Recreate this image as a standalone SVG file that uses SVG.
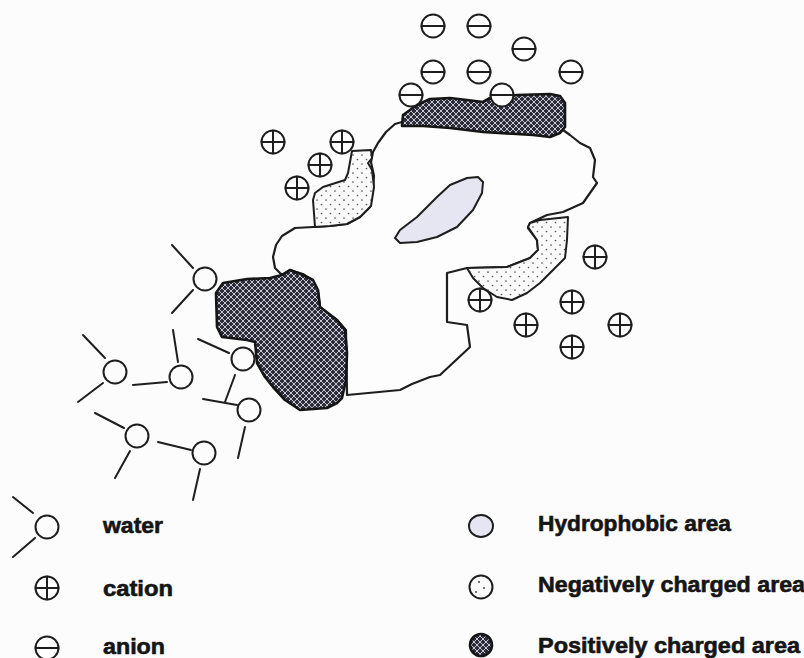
<svg xmlns="http://www.w3.org/2000/svg" width="804" height="658" viewBox="0 0 804 658">
  <style>
    .ln { stroke: #1e1e1e; stroke-width: 2; fill: none; stroke-linecap: round; stroke-linejoin: round; }
    .ion { stroke: #1e1e1e; stroke-width: 2; fill: #ffffff; }
    .mol { stroke: #1e1e1e; stroke-width: 2; fill: none; }
    .blob { stroke: #1e1e1e; stroke-width: 2.2; fill: #fdfdfd; stroke-linejoin: round; }
    .pos { stroke: #151515; stroke-width: 2.6; fill: url(#cross); stroke-linejoin: round; }
    .neg { stroke: #1e1e1e; stroke-width: 2; fill: url(#dots); stroke-linejoin: round; }
    .hyd { stroke: #1e1e1e; stroke-width: 2; fill: #e6e6f2; stroke-linejoin: round; }
    .lbl { font-family: "Liberation Sans", Arial, sans-serif; font-weight: bold; font-size: 22px; fill: #151515; stroke: #151515; stroke-width: 0.6; }
  </style>
  <defs>
    <pattern id="cross" width="6" height="6" patternUnits="userSpaceOnUse">
      <rect width="6" height="6" fill="#2c2c3a"/>
      <path d="M0,0 L6,6 M6,0 L0,6" stroke="#c8c8d2" stroke-width="1"/>
    </pattern>
    <pattern id="dots" width="9" height="9" patternUnits="userSpaceOnUse">
      <rect width="9" height="9" fill="#fafafa"/>
      <circle cx="2" cy="2" r="0.85" fill="#5a5a5a"/>
      <circle cx="6.5" cy="6.5" r="0.85" fill="#5a5a5a"/>
    </pattern>
    <g id="anion">
      <circle class="ion" r="11.5"/>
      <path class="ln" d="M-11.5,0 H11.5"/>
    </g>
    <g id="cation">
      <circle class="ion" r="11.5"/>
      <path class="ln" d="M-11.5,0 H11.5 M0,-11.5 V11.5"/>
    </g>
  </defs>

  <rect width="804" height="658" fill="#fcfcfc"/>

  <!-- protein surface -->
  <g id="protein">
    <path class="blob" d="M402,122 L395,124 L386,132 L378,143 L373,152 L371,162 L374,176 L373,190 L370,207 L360,217 L347,224 L330,226 L313,227 L295,228 L282,236 L276,245 L273,257 L275,268 L282,275 L290,270 L303,274 L313,281 L318,292 L320,307 L337,320 L346,330 L347,395 L400,390 L412,384 L430,377 L440,375 L470,347 L467,325 L447,322 L447,273 L467,268 L507,267 L530,258 L538,250 L537,240 L528,228 L530,223 L547,215 L563,212 L583,203 L590,193 L597,183 L593,177 L595,160 L590,148 L580,143 L570,135 L563,130 L520,126 L450,124 Z"/>
  </g>

  <g id="hydrophobic-area">
    <path class="hyd" d="M395,238 L400,230 L417,217 L437,197 L450,185 L467,178 L478,177 L483,182 L482,193 L473,210 L457,227 L437,237 L417,242 L400,243 Z"/>
  </g>

  <g id="negative-area-left">
    <path class="neg" d="M352,151 L371,150 L372,158 L368,163 L372,170 L374,187 L371,206 L360,217 L347,224 L330,226 L315,227 L313,200 L315,193 L323,187 L345,180 L348,173 Z"/>
  </g>

  <g id="negative-area-right">
    <path class="neg" d="M467,268 L473,278 L483,288 L497,297 L512,300 L527,293 L540,283 L553,270 L565,258 L567,240 L568,217 L540,220 L530,223 L528,227 L537,240 L538,250 L530,258 L507,267 Z"/>
  </g>

  <g id="positive-area-top">
    <path class="pos" d="M402,126 L403,115 L417,105 L430,99 L450,98 L467,100 L483,102 L490,98 L503,97 L517,95 L550,94 L560,96 L565,103 L565,127 L560,133 L550,137 L533,135 L483,132 L450,128 L423,126 Z"/>
  </g>

  <g id="positive-area-left">
    <path class="pos" d="M282,275 L290,270 L303,275 L313,280 L318,290 L320,307 L337,320 L345,330 L347,353 L346,380 L342,398 L337,403 L327,408 L300,410 L285,400 L273,387 L265,377 L257,363 L255,342 L247,340 L222,337 L217,327 L216,293 L223,283 L247,279 L270,278 Z"/>
  </g>

  <!-- anions above the top positive patch -->
  <g id="anions">
    <use href="#anion" x="433" y="26"/>
    <use href="#anion" x="479" y="26"/>
    <use href="#anion" x="524" y="49"/>
    <use href="#anion" x="433" y="72"/>
    <use href="#anion" x="479" y="72"/>
    <use href="#anion" x="571" y="72"/>
    <use href="#anion" x="411" y="95"/>
    <use href="#anion" x="502" y="95"/>
  </g>

  <!-- cations near the negative patches -->
  <g id="cations">
    <use href="#cation" x="273" y="142"/>
    <use href="#cation" x="342" y="142"/>
    <use href="#cation" x="320" y="165"/>
    <use href="#cation" x="297" y="188"/>
    <use href="#cation" x="595" y="257"/>
    <use href="#cation" x="480" y="300"/>
    <use href="#cation" x="572" y="302"/>
    <use href="#cation" x="526" y="325"/>
    <use href="#cation" x="620" y="325"/>
    <use href="#cation" x="572" y="347"/>
  </g>

  <!-- water molecules: oxygen circle with two hydrogen bonds -->
  <g id="water">
    <g id="water-1"><circle class="mol" cx="205" cy="279" r="11.5"/><path class="ln" d="M172,245 L193,268 M193,290 L172,313"/></g>
    <g id="water-2"><circle class="mol" cx="243" cy="359" r="11.5"/><path class="ln" d="M198,339 L229,353 M235,375 L225,402"/></g>
    <g id="water-3"><circle class="mol" cx="249" cy="410" r="11.5"/><path class="ln" d="M203,399 L237,405 M245,427 L238,458"/></g>
    <g id="water-4"><circle class="mol" cx="181" cy="377" r="11.5"/><path class="ln" d="M173,330 L178,362 M133,385 L167,382"/></g>
    <g id="water-5"><circle class="mol" cx="115" cy="372" r="11.5"/><path class="ln" d="M83,335 L105,358 M103,383 L78,402"/></g>
    <g id="water-6"><circle class="mol" cx="137" cy="436" r="11.5"/><path class="ln" d="M95,413 L124,428 M130,451 L115,478"/></g>
    <g id="water-7"><circle class="mol" cx="204" cy="453" r="11.5"/><path class="ln" d="M158,442 L191,450 M200,469 L193,500"/></g>
  </g>

  <!-- legend -->
  <g id="legend">
    <g id="legend-water">
      <circle class="mol" cx="47" cy="527" r="11.5"/>
      <path class="ln" d="M13,497 L33,513 M35,538 L13,557"/>
      <text class="lbl" x="103" y="533" textLength="60" lengthAdjust="spacingAndGlyphs">water</text>
    </g>
    <g id="legend-cation">
      <use href="#cation" x="47" y="588"/>
      <text class="lbl" x="103" y="596" textLength="70" lengthAdjust="spacingAndGlyphs">cation</text>
    </g>
    <g id="legend-anion">
      <use href="#anion" x="47" y="648"/>
      <text class="lbl" x="103" y="654" textLength="62" lengthAdjust="spacingAndGlyphs">anion</text>
    </g>
    <g id="legend-hydrophobic">
      <ellipse class="hyd" cx="481" cy="526" rx="12" ry="11"/>
      <text class="lbl" x="538" y="531" textLength="193" lengthAdjust="spacingAndGlyphs">Hydrophobic area</text>
    </g>
    <g id="legend-negative">
      <circle cx="481" cy="587" r="11.5" fill="#fafafa" stroke="#1e1e1e" stroke-width="2"/>
      <circle cx="479" cy="582" r="1" fill="#444"/>
      <circle cx="484" cy="588" r="1" fill="#444"/>
      <circle cx="476" cy="592" r="1" fill="#444"/>
      <text class="lbl" x="538" y="592" textLength="267" lengthAdjust="spacingAndGlyphs">Negatively charged area</text>
    </g>
    <g id="legend-positive">
      <circle class="pos" cx="481" cy="645" r="11"/>
      <text class="lbl" x="538" y="653" textLength="262" lengthAdjust="spacingAndGlyphs">Positively charged area</text>
    </g>
  </g>
</svg>
